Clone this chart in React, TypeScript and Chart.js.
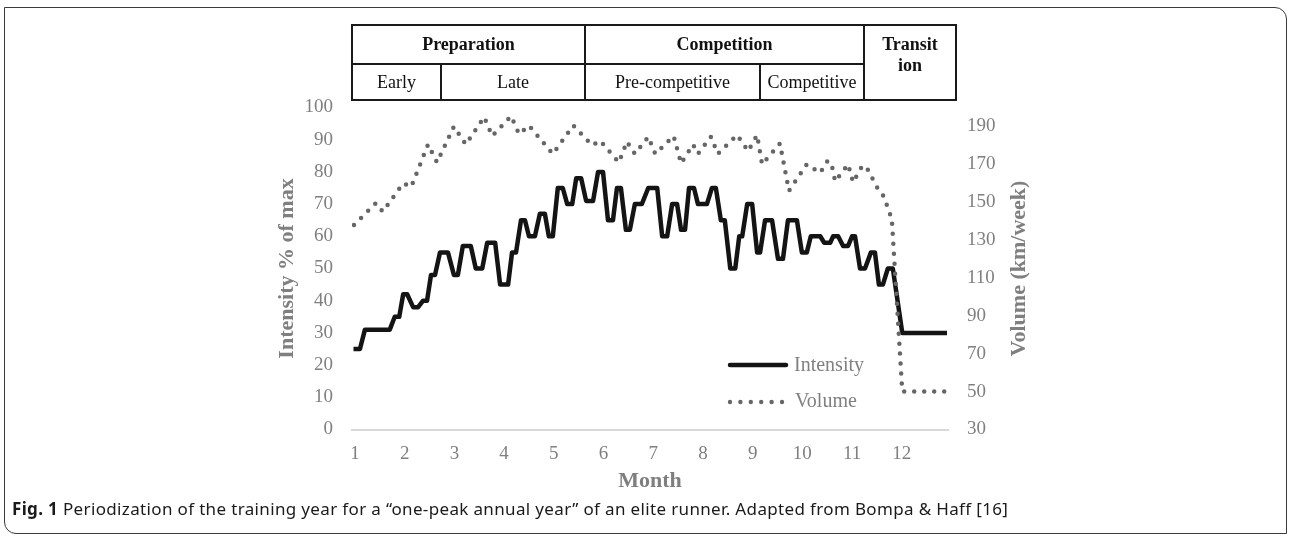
import React, { useEffect, useRef } from 'react';
import { Chart, registerables } from 'chart.js';

Chart.register(...registerables);

// ---------- data ----------
const MONTH_TICKS = [1, 2, 3, 4, 5, 6, 7, 8, 9, 10, 11, 12];
const INTENSITY_TICKS = [0, 10, 20, 30, 40, 50, 60, 70, 80, 90, 100];
const VOLUME_TICKS = [30, 50, 70, 90, 110, 130, 150, 170, 190];

const INTENSITY_MONTH = [
  0.97, 1.1, 1.2, 1.7, 1.8, 1.89, 1.97, 2.05, 2.17, 2.27, 2.37, 2.45, 2.53, 2.61, 2.71, 2.87,
  2.99, 3.07, 3.17, 3.33, 3.43, 3.56, 3.66, 3.82, 3.92, 4.08, 4.16, 4.24, 4.34, 4.42, 4.5, 4.62,
  4.72, 4.82, 4.9, 4.98, 5.08, 5.18, 5.27, 5.37, 5.45, 5.55, 5.65, 5.79, 5.89, 5.99, 6.09, 6.19,
  6.27, 6.35, 6.45, 6.53, 6.63, 6.77, 6.9, 7.08, 7.18, 7.28, 7.38, 7.48, 7.56, 7.64, 7.72, 7.82,
  7.9, 8.08, 8.18, 8.26, 8.36, 8.44, 8.55, 8.65, 8.73, 8.79, 8.89, 8.99, 9.09, 9.15, 9.25, 9.39,
  9.51, 9.61, 9.71, 9.89, 9.99, 10.09, 10.17, 10.36, 10.44, 10.56, 10.62, 10.72, 10.82, 10.92,
  11.0, 11.06, 11.16, 11.26, 11.38, 11.46, 11.54, 11.62, 11.72, 11.82, 12.01, 12.91,
];
const INTENSITY_VALUE = [
  25, 25, 31, 31, 35, 35, 42, 42, 38, 38, 40, 40, 48, 48, 55, 55,
  48, 48, 57, 57, 50, 50, 58, 58, 45, 45, 55, 55, 65, 65, 60, 60,
  67, 67, 60, 60, 75, 75, 70, 70, 78, 78, 71, 71, 80, 80, 65, 65,
  75, 75, 62, 62, 70, 70, 75, 75, 60, 60, 70, 70, 62, 62, 75, 75,
  70, 70, 75, 75, 65, 65, 50, 50, 60, 60, 70, 70, 55, 55, 65, 65,
  53, 53, 65, 65, 55, 55, 60, 60, 58, 58, 60, 60, 57, 57,
  60, 60, 50, 50, 55, 55, 45, 45, 50, 50, 30, 30,
];

const VOLUME_MONTH = [
  0.98, 1.42, 1.56, 1.97, 2.13, 2.47, 2.65, 2.99, 3.23, 3.6, 3.76, 4.14, 4.3, 4.5, 4.98, 5.39,
  5.77, 5.93, 6.31, 6.47, 6.63, 6.9, 7.04, 7.41, 7.56, 7.8, 7.9, 8.16, 8.3, 8.69, 8.91, 9.09,
  9.19, 9.55, 9.73, 10.09, 10.36, 10.5, 10.58, 10.66, 10.92, 11.02, 11.2, 11.28, 11.52, 11.64,
  11.72, 11.8, 12.01, 12.91,
];
const VOLUME_VALUE = [
  138, 149.5, 145, 160, 158, 180.5, 171, 190, 180.5, 195, 185, 195.5, 186, 190.5, 175.5, 190.5,
  180, 182.5, 171, 182, 175.5, 184.5, 175.5, 185, 170.5, 180.5, 175.5, 184.5, 175.5, 185.5, 177, 185.5,
  170, 181, 156, 170, 165.5, 171.5, 171, 161, 170, 160.5, 169, 169, 157, 153,
  147, 141, 50, 50,
];

const PHASES = ['Preparation', 'Competition', 'Transit\nion'];
const SUB_PHASES = ['Early', 'Late', 'Pre-competitive', 'Competitive'];
const LEGEND_LABELS = ['Intensity', 'Volume'];

const SERIF = '"Liberation Serif", "Times New Roman", serif';
const GRAY = '#7f7f7f';

const overlayPlugin = {
  id: 'overlay',
  afterDraw(chart: any) {
    const { ctx, chartArea: a } = chart;
    ctx.save();
    // legend: Intensity
    ctx.strokeStyle = '#141414';
    ctx.lineWidth = 4.5;
    ctx.lineCap = 'round';
    ctx.beginPath();
    ctx.moveTo(a.left + 378, a.top + 257.5);
    ctx.lineTo(a.left + 434, a.top + 257.5);
    ctx.stroke();
    ctx.font = `20px ${SERIF}`;
    ctx.fillStyle = '#808080';
    ctx.textAlign = 'left';
    ctx.textBaseline = 'middle';
    ctx.fillText(LEGEND_LABELS[0], a.left + 442, a.top + 258.5);
    // legend: Volume
    ctx.fillStyle = '#666666';
    for (let i = 0; i < 6; i++) {
      ctx.beginPath();
      ctx.arc(a.left + 378 + i * 10.4, a.top + 294.5, 2.2, 0, Math.PI * 2);
      ctx.fill();
    }
    ctx.fillStyle = '#808080';
    ctx.fillText(LEGEND_LABELS[1], a.left + 443, a.top + 294.5);
    // right axis title (reads bottom to top)
    ctx.translate(a.right + 71, (a.top + a.bottom) / 2);
    ctx.rotate(-Math.PI / 2);
    ctx.font = `bold 22px ${SERIF}`;
    ctx.fillStyle = GRAY;
    ctx.textAlign = 'center';
    ctx.fillText('Volume (km/week)', 0, 0);
    ctx.restore();
  },
};

function Cell(props: { x1: number; x2: number; y1: number; y2: number; text: string; bold?: boolean; top?: boolean }) {
  const { x1, x2, y1, y2, text, bold, top } = props;
  return (
    <div
      style={{
        position: 'absolute',
        left: x1 - 1,
        top: y1 - 1,
        width: x2 - x1 + 2,
        height: y2 - y1 + 2,
        border: '2px solid #1a1a1a',
        boxSizing: 'border-box',
        display: 'flex',
        alignItems: top ? 'flex-start' : 'center',
        justifyContent: 'center',
        paddingTop: top ? 8 : 0,
        fontFamily: SERIF,
        fontSize: 18,
        fontWeight: bold ? 'bold' : 'normal',
        lineHeight: '21px',
        whiteSpace: 'pre-line',
        textAlign: 'center',
        color: '#111',
      }}
    >
      {text}
    </div>
  );
}

export default function App() {
  const ref = useRef<HTMLCanvasElement>(null);

  useEffect(() => {
    if (!ref.current) return;
    const tickFont = { family: SERIF, size: 19 };
    const titleFont = { family: SERIF, size: 22, weight: 'bold' as const };
    const chart = new Chart(ref.current, {
      type: 'line',
      data: {
        datasets: [
          {
            label: LEGEND_LABELS[0],
            data: INTENSITY_MONTH.map((m, i) => ({ x: m, y: INTENSITY_VALUE[i] })),
            yAxisID: 'y',
            borderColor: '#141414',
            borderWidth: 4.5,
            borderJoinStyle: 'round',
            pointRadius: 0,
            tension: 0,
            order: 2,
          },
          {
            label: LEGEND_LABELS[1],
            data: VOLUME_MONTH.map((m, i) => ({ x: m, y: VOLUME_VALUE[i] })),
            yAxisID: 'y1',
            borderColor: '#666666',
            borderWidth: 4.5,
            borderDash: [0, 10],
            borderCapStyle: 'round',
            pointRadius: 0,
            tension: 0,
            order: 1,
          },
        ],
      },
      options: {
        responsive: false,
        animation: false,
        layout: { padding: { left: 270, top: 107.5, right: 0, bottom: 38.5 } },
        plugins: { legend: { display: false }, tooltip: { enabled: false } },
        scales: {
          x: {
            type: 'linear',
            min: 0.94,
            max: 12.93,
            grid: { display: false, drawTicks: false },
            border: { display: true, color: '#d9d9d9', width: 2 },
            ticks: { padding: 13, color: GRAY, font: tickFont },
            afterBuildTicks: (s: any) => {
              s.ticks = MONTH_TICKS.map((v) => ({ value: v }));
            },
            afterFit: (s: any) => {
              s.height = 70;
            },
            title: { display: true, text: 'Month', color: GRAY, font: titleFont, padding: { top: 0, bottom: 5 } },
          },
          y: {
            position: 'left',
            min: 0,
            max: 100,
            grid: { display: false, drawTicks: false },
            border: { display: false },
            ticks: { padding: 19, color: GRAY, font: tickFont },
            afterBuildTicks: (s: any) => {
              s.ticks = INTENSITY_TICKS.map((v) => ({ value: v }));
            },
            afterFit: (s: any) => {
              s.width = 82;
            },
            title: { display: true, text: 'Intensity % of max', color: GRAY, font: titleFont, padding: { top: 4, bottom: 0 } },
          },
          y1: {
            position: 'right',
            min: 30,
            max: 200,
            grid: { display: false, drawTicks: false },
            border: { display: false },
            ticks: { padding: 19, color: GRAY, font: tickFont },
            afterBuildTicks: (s: any) => {
              s.ticks = VOLUME_TICKS.map((v) => ({ value: v }));
            },
            afterFit: (s: any) => {
              s.width = 344;
            },
          },
        },
      } as any,
      plugins: [overlayPlugin],
    });
    return () => chart.destroy();
  }, []);

  return (
    <div style={{ position: 'absolute', left: 0, top: 0, width: 1292, height: 538, background: '#fff', overflow: 'hidden' }}>
      <div
        style={{
          position: 'absolute',
          left: 4,
          top: 7,
          width: 1283,
          height: 527,
          border: '1.5px solid #3a3a3a',
          borderRadius: '0 12px 0 12px',
          boxSizing: 'border-box',
        }}
      />
      <canvas ref={ref} width={1292} height={538} style={{ position: 'absolute', left: 0, top: 0, display: 'block' }} />
      <Cell x1={352} x2={585} y1={25} y2={64} text={PHASES[0]} bold />
      <Cell x1={585} x2={864} y1={25} y2={64} text={PHASES[1]} bold />
      <Cell x1={864} x2={956} y1={25} y2={100} text={PHASES[2]} bold top />
      <Cell x1={352} x2={441} y1={64} y2={100} text={SUB_PHASES[0]} />
      <Cell x1={441} x2={585} y1={64} y2={100} text={SUB_PHASES[1]} />
      <Cell x1={585} x2={760} y1={64} y2={100} text={SUB_PHASES[2]} />
      <Cell x1={760} x2={864} y1={64} y2={100} text={SUB_PHASES[3]} />
      <div
        style={{
          position: 'absolute',
          left: 12,
          top: 498,
          lineHeight: '22px',
          fontFamily: '"Noto Sans", "Liberation Sans", sans-serif',
          fontSize: 17,
          letterSpacing: '0.35px',
          color: '#1a1a1a',
          whiteSpace: 'nowrap',
        }}
      >
        <b>Fig. 1</b> Periodization of the training year for a “one-peak annual year” of an elite runner. Adapted from Bompa &amp; Haff [16]
      </div>
    </div>
  );
}
